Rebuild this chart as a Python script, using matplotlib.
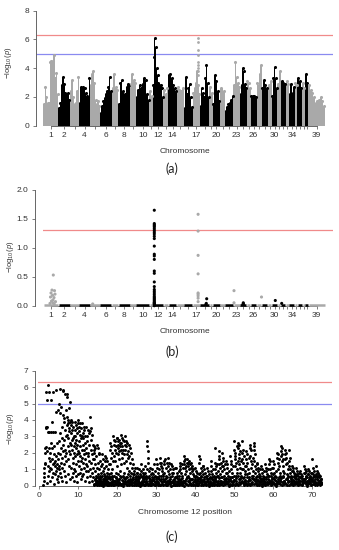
import matplotlib
matplotlib.use("Agg")
import matplotlib.pyplot as plt
import numpy as np

plt.rcParams['font.family'] = ['Liberation Sans', 'DejaVu Sans']
plt.rcParams['mathtext.fontset'] = 'custom'
plt.rcParams['mathtext.rm'] = 'Liberation Sans'
plt.rcParams['mathtext.it'] = 'Liberation Sans:italic'

# ---- genome layout (width of each chromosome on the x axis, snp index units)
chrom_len = [15, 11.7, 9, 11, 10, 11.7, 6.6, 11.7, 6, 13.3, 3.4, 10.6, 5, 8.4, 7.3,
             8.7, 7.3, 9.3, 3.4, 7.3, 5, 8.3, 6.7, 6.7, 4, 6, 5, 6, 4, 5.6, 3.4,
             5, 3.3, 5.7, 2.6, 5, 2.7, 3.3, 16.7]
chrom_shown = [1, 2, 4, 6, 8, 10, 12, 14, 17, 20, 23, 26, 30, 34, 39]

# ---- (a) upper envelope of -log10(p) along each chromosome
a_c1 = [1.5, 2.7, 2.0, 1.6, 1.6, 4.4, 4.5, 4.5, 4.9, 3.3, 3.7, 2.2]
a_c2 = [1.2, 1.6, 2.8, 3.4, 2.9, 2.3, 2.2, 2.3, 1.8]
a_c3 = [2.4, 3.2, 2.0, 1.5, 1.6, 2.4, 3.4]
a_c4 = [1.6, 2.7, 2.6, 2.7, 2.6, 2.3, 2.1, 2.0, 3.3]
a_c5 = [2.8, 3.6, 3.8, 3.0, 1.8, 1.5, 1.7, 1.4]
a_c6 = [0.9, 1.4, 1.7, 1.9, 2.2, 2.4, 2.7, 3.4, 2.4]
a_c7 = [2.6, 3.6, 2.7, 2.5]
a_c8 = [1.5, 3.0, 3.2, 2.4, 2.1, 2.2, 2.7, 2.9, 2.8]
a_c9 = [2.9, 3.6, 3.2, 3.0]
a_c10 = [2.0, 2.5, 2.8, 2.6, 2.9, 3.3, 3.2, 2.2, 1.8]
a_c11 = [2.4, 2.1]
a_c12 = [2.8, 4.8, 6.1, 5.5, 4.0, 3.5, 3.0, 2.8, 2.7, 2.8, 2.6, 2.0]
a_c13 = [2.5, 2.2, 2.6]
a_c14 = [3.5, 3.6, 3.3, 2.8, 2.6, 2.4]
a_c15 = [2.7, 2.5, 2.4, 2.6]
a_c16 = [1.2, 3.4, 2.2, 2.6, 2.9, 2.0, 1.3]
a_c17 = [2.3, 2.6, 3.0, 3.8, 2.8, 2.2]
a_c18 = [1.4, 2.6, 2.3, 2.0, 3.3, 4.2, 3.0, 2.0]
a_c19 = [2.7, 2.3]
a_c20 = [1.5, 3.5, 3.1, 2.4, 1.7]
a_c21 = [2.6, 2.4]
a_c22 = [1.0, 1.3, 1.5, 1.6, 1.8, 2.1]
a_c23 = [2.8, 4.4, 3.4, 3.0, 2.7]
a_c24 = [2.2, 2.8, 4.0, 3.8, 2.9, 2.6]
a_c25 = [3.1, 3.0, 2.6]
a_c26 = [2.1, 2.1, 2.1, 2.0]
a_c27 = [3.0, 2.8, 3.6, 4.2]
a_c28 = [2.6, 3.2, 2.8, 2.6]
a_c29 = [2.8, 3.1]
a_c30 = [2.1, 3.3, 4.1, 3.3, 2.6]
a_c31 = [2.9, 3.8]
a_c32 = [3.1, 3.0, 2.9]
a_c33 = [3.1, 2.9]
a_c34 = [2.2, 2.9, 2.3, 2.7]
a_c35 = [3.0, 2.8]
a_c36 = [3.3, 3.1, 2.6]
a_c37 = [3.0, 2.6]
a_c38 = [3.6, 3.0]
a_c39 = [2.8, 2.5, 2.3, 2.0, 1.6, 1.7, 1.8, 2.0, 1.7, 1.4]
a_tops = [a_c1, a_c2, a_c3, a_c4, a_c5, a_c6, a_c7, a_c8, a_c9, a_c10, a_c11, a_c12,
          a_c13, a_c14, a_c15, a_c16, a_c17, a_c18, a_c19, a_c20, a_c21, a_c22,
          a_c23, a_c24, a_c25, a_c26, a_c27, a_c28, a_c29, a_c30, a_c31, a_c32,
          a_c33, a_c34, a_c35, a_c36, a_c37, a_c38, a_c39]
# lone markers above chromosome 17
a_c17_hits = [6.1, 5.85, 5.3, 4.9, 4.45, 4.2, 4.0, 3.8, 3.5]
a_c17_pos = 4.8

# ---- (b) non-zero points (chromosome, offset inside chromosome, value)
b_chr = [1] * 14 + [5] + [12] * 35 + [17] * 9 + [18] * 3 + [23] * 2 + [24] * 3 + [27, 30, 32]
b_off = [10.0, 8.7, 11.2, 7.7, 11.7, 9.2, 7.2, 10.7, 9.7, 8.2, 12.2, 9.5, 6.7, 10.9,
         2.7] + [1.6] * 35 + [5.4] * 9 + [6.7, 6.3, 5.9] + [0.7, 0.7] + [3.3, 3.4, 2.9] + [4.8, 3.6, 1.0]
b_val = [0.53, 0.27, 0.26, 0.22, 0.20, 0.18, 0.15, 0.14, 0.10, 0.08, 0.07, 0.05, 0.04, 0.03,
         0.03,
         1.65, 1.42, 1.40, 1.38, 1.36, 1.33, 1.30, 1.27, 1.24, 1.20, 1.16, 1.03, 0.89, 0.86,
         0.80, 0.60, 0.56, 0.41, 0.33, 0.28, 0.25, 0.22, 0.19, 0.16, 0.14, 0.12, 0.10, 0.08,
         0.06, 0.05, 0.04, 0.03, 0.02, 0.01, 0.0,
         1.58, 1.29, 0.87, 0.55, 0.22, 0.20, 0.17, 0.13, 0.07,
         0.12, 0.04, 0.02,
         0.26, 0.05,
         0.05, 0.03, 0.02,
         0.15, 0.09, 0.04]

# ---- (c) chromosome 12 scan, values per 1-Mb window starting at 1 Mb
c12_1_9 = [
    [0.05, 0.3, 0.55, 0.8, 1.05, 1.3, 1.4, 2.0, 2.3, 3.5, 3.55, 5.7, 2.35, 0.15, 5.2, 2.1],
    [3.6, 3.25, 1.2, 0.6, 6.1, 2.3, 1.7, 5.7, 0.9, 3.25, 1.5, 2.0, 0.3, 1.1, 5.2, 2.6],
    [1.0, 3.25, 1.6, 0.5, 3.9, 2.3, 5.7, 1.3, 0.8, 3.25, 1.9, 0.1, 1.4, 2.4, 0.7, 1.2],
    [1.5, 3.25, 4.5, 0.9, 1.8, 5.8, 1.1, 2.6, 0.4, 1.3, 4.6, 0.6, 2.0, 1.6, 0.2, 1.0],
    [5.0, 1.2, 2.7, 4.4, 5.9, 0.8, 1.9, 3.2, 1.4, 2.3, 4.8, 0.5, 1.7, 2.9, 0.3, 1.1, 3.6, 2.1],
    [5.85, 4.3, 2.5, 5.75, 1.3, 3.9, 2.8, 0.9, 4.1, 1.8, 3.4, 5.6, 2.2, 0.6, 3.0, 1.5, 4.6, 2.0, 0.2, 3.7],
    [5.6, 4.2, 3.1, 5.4, 2.4, 3.8, 1.6, 4.0, 2.9, 0.7, 3.5, 1.2, 4.7, 2.1, 3.3, 0.4, 2.6, 1.9, 5.1, 3.9],
    [4.0, 3.2, 2.5, 3.7, 1.1, 2.8, 3.9, 0.5, 2.2, 3.4, 1.7, 2.9, 0.8, 3.6, 1.4, 2.0, 3.0, 0.3, 2.4, 1.0],
    [3.9, 2.6, 3.4, 1.8, 3.0, 0.9, 2.3, 3.7, 1.3, 2.8, 0.6, 3.2, 1.9, 2.5, 0.2, 3.5, 1.5, 2.1, 0.7, 3.8],
]
c12_10_19 = [
    [4.0, 3.3, 2.0, 3.6, 1.2, 2.7, 0.8, 3.1, 1.8, 2.4, 3.8, 0.4, 1.5, 2.9, 1.0, 3.5, 2.2, 0.6, 1.7, 3.0],
    [3.8, 2.5, 3.2, 1.4, 2.9, 0.7, 3.6, 1.9, 2.2, 1.1, 3.4, 0.3, 2.6, 1.6, 3.0, 0.9, 2.0, 1.3],
    [3.6, 2.3, 3.0, 1.2, 2.7, 0.5, 3.4, 1.8, 2.0, 0.9, 3.2, 1.5, 0.2, 2.5, 1.0, 0.6],
    [4.2, 3.3, 2.2, 3.5, 1.4, 2.8, 0.8, 3.1, 1.9, 0.3, 2.5, 1.1, 0.5, 1.6, 0.1, 2.0],
    [2.4, 1.6, 2.2, 0.9, 1.3, 0.4, 2.3, 0.2, 1.8, 0.6, 0.1, 1.1, 0.3, 2.5, 0.05, 0.7],
    [2.3, 1.4, 0.5, 1.9, 0.2, 1.0, 0.3, 2.0, 0.6, 0.1, 1.5, 0.4, 0.8, 0.05, 1.2, 0.25, 0.15],
    [1.9, 0.6, 1.3, 0.2, 0.9, 0.4, 1.6, 0.1, 0.7, 0.3, 1.1, 0.05, 0.5, 1.5, 0.15, 0.35, 1.8],
    [1.7, 0.4, 1.2, 0.1, 0.8, 0.3, 1.5, 0.6, 0.2, 1.0, 0.05, 0.5, 1.3, 0.15, 0.7],
    [2.6, 1.3, 0.5, 2.2, 0.2, 1.7, 0.8, 2.4, 0.1, 1.0, 0.4, 2.0, 0.6, 1.5, 0.3, 0.05],
    [3.0, 2.5, 1.8, 2.8, 0.6, 2.2, 0.3, 2.7, 1.5, 0.8, 2.4, 0.1, 2.0, 0.5, 2.9, 1.2, 0.2],
]
c12_20_29 = [
    [2.9, 2.3, 2.7, 1.9, 2.5, 0.7, 2.1, 0.4, 2.8, 1.6, 0.2, 2.4, 0.9, 2.6, 0.1, 1.3, 2.2, 0.5],
    [3.1, 2.6, 2.0, 2.9, 1.7, 2.4, 0.6, 2.8, 0.3, 2.2, 1.4, 0.8, 2.7, 0.1, 1.9, 0.4, 2.5],
    [3.0, 2.2, 2.7, 1.5, 2.4, 0.5, 1.9, 0.2, 2.6, 1.1, 0.7, 2.1, 0.3, 1.7, 0.1, 0.9],
    [2.5, 1.8, 2.3, 0.6, 1.4, 0.3, 2.0, 0.8, 0.1, 1.1, 0.4, 1.6, 0.2, 0.7],
    [1.3, 0.5, 0.9, 0.2, 0.7, 0.1, 1.1, 0.4, 0.6, 0.05, 0.3, 0.8],
    [1.1, 0.4, 0.8, 0.1, 0.6, 0.3, 1.0, 0.2, 0.5, 0.05, 0.7, 0.15],
    [1.3, 0.6, 0.9, 0.2, 0.5, 0.1, 0.8, 0.4, 1.0, 0.05, 0.3, 0.7],
    [1.2, 0.5, 0.8, 0.2, 0.3, 0.1, 0.6, 1.0, 2.7, 2.4, 2.1, 1.7, 1.4],
    [0.9, 0.3, 0.6, 0.1, 1.1, 0.4, 0.7, 0.05, 0.2, 0.8, 0.5],
    [1.0, 0.4, 0.7, 0.1, 1.3, 0.3, 0.6, 0.05, 0.9, 0.2, 0.5],
]
c12_30_39 = [
    [1.6, 1.1, 0.5, 1.3, 0.2, 0.8, 0.1, 1.0, 0.4, 0.6, 0.05, 1.4],
    [1.7, 1.2, 0.6, 1.4, 0.3, 0.9, 0.1, 1.1, 0.4, 0.05, 0.7, 1.5],
    [1.3, 0.8, 1.6, 0.4, 1.1, 0.2, 0.6, 0.05, 1.4, 0.3, 0.9],
    [1.7, 1.2, 0.7, 1.4, 0.3, 1.0, 0.1, 0.5, 1.3, 0.2, 0.8],
    [1.2, 0.6, 1.0, 0.2, 0.8, 0.1, 0.4, 1.1, 0.05, 0.3],
    [1.1, 0.5, 0.8, 0.2, 0.6, 0.1, 0.3, 0.9, 0.05, 0.4],
    [1.4, 1.0, 1.2, 0.4, 0.8, 0.2, 1.3, 0.6, 0.1, 1.1, 0.3],
    [1.8, 1.3, 1.5, 0.7, 1.1, 0.3, 1.6, 0.9, 0.1, 1.2, 0.5, 1.4],
    [1.6, 1.2, 1.4, 0.6, 1.0, 0.2, 1.5, 0.8, 0.1, 1.3, 0.4, 1.1],
    [1.4, 0.9, 1.2, 0.4, 0.7, 0.1, 1.0, 0.3, 0.6, 0.05, 0.5],
]
c12_40_49 = [
    [1.1, 0.6, 0.9, 0.2, 0.5, 0.1, 0.8, 0.3, 0.05, 0.4, 0.7],
    [1.8, 1.4, 0.8, 1.6, 0.4, 1.1, 0.2, 0.6, 0.1, 0.9, 0.3, 1.2],
    [1.2, 0.7, 1.0, 0.3, 0.5, 0.1, 0.8, 0.2, 0.6, 0.05, 0.4],
    [1.1, 0.6, 0.9, 0.2, 0.4, 0.1, 0.7, 0.3, 0.5, 0.05],
    [1.5, 0.9, 1.2, 0.4, 0.7, 0.2, 1.0, 0.1, 0.5, 0.3, 0.6],
    [2.3, 1.4, 1.0, 1.2, 0.5, 0.8, 0.2, 1.3, 0.1, 0.6, 0.3, 0.9],
    [2.1, 1.6, 1.3, 1.8, 0.7, 1.1, 0.3, 1.4, 0.5, 0.1, 0.9, 1.2, 0.2],
    [2.0, 1.5, 1.2, 1.7, 0.6, 1.0, 0.2, 1.3, 0.4, 0.1, 0.8, 0.3],
    [1.5, 1.1, 0.8, 1.3, 0.4, 0.6, 0.1, 0.9, 0.3, 0.05, 0.5],
    [1.8, 1.3, 1.0, 1.5, 0.5, 0.8, 0.2, 1.2, 0.3, 0.1, 0.6],
]
c12_50_59 = [
    [2.7, 2.2, 1.6, 2.0, 1.2, 1.8, 0.6, 1.4, 0.3, 1.0, 0.1, 2.4, 0.8, 1.5],
    [2.6, 2.3, 1.9, 2.5, 1.3, 1.7, 0.8, 2.1, 0.4, 1.1, 0.2, 1.5, 0.6, 1.0],
    [2.7, 2.0, 1.6, 2.2, 1.0, 1.4, 0.5, 1.8, 0.2, 0.9, 1.2, 0.3, 0.7],
    [2.1, 1.6, 1.2, 1.9, 0.7, 1.4, 0.3, 1.0, 0.1, 0.5, 1.7, 0.8],
    [2.5, 2.3, 1.8, 2.2, 1.1, 1.5, 0.6, 1.3, 0.2, 0.9, 0.4, 1.7],
    [2.6, 2.4, 2.2, 1.5, 1.9, 0.8, 1.2, 0.4, 1.0, 0.1, 0.6, 1.4, 0.3],
    [1.3, 0.9, 1.1, 0.5, 0.7, 0.2, 1.0, 0.3, 0.6, 0.1, 0.4],
    [1.2, 0.8, 1.0, 0.4, 0.6, 0.1, 0.9, 0.3, 0.5, 0.2],
    [1.3, 0.9, 1.1, 0.5, 0.7, 0.2, 1.0, 0.1, 0.4, 0.6],
    [1.6, 1.3, 1.0, 1.5, 0.6, 0.8, 0.2, 1.1, 0.4, 0.1, 0.7],
]
c12_60_72 = [
    [1.5, 1.1, 0.8, 1.3, 0.4, 0.6, 0.1, 0.9, 0.3, 0.5, 0.2],
    [2.0, 1.7, 1.4, 1.9, 1.0, 1.2, 0.5, 1.6, 0.3, 0.8, 0.1, 0.6],
    [2.4, 2.1, 1.8, 2.3, 1.5, 1.9, 0.9, 1.6, 0.6, 1.2, 0.3, 0.8, 0.1],
    [2.2, 1.9, 1.6, 2.0, 1.3, 1.7, 0.7, 1.4, 0.4, 1.0, 0.2, 0.6],
    [2.2, 1.5, 1.2, 1.7, 0.8, 1.0, 0.3, 0.6, 0.1, 0.5, 0.9, 0.2],
    [1.2, 0.9, 1.1, 0.6, 0.8, 0.3, 0.5, 0.1, 0.7, 0.2, 0.4],
    [1.1, 0.7, 0.9, 0.4, 0.6, 0.2, 0.8, 0.1, 0.5, 0.3],
    [0.9, 0.5, 0.7, 0.3, 0.6, 0.1, 0.4, 0.2, 0.8],
    [1.2, 0.8, 1.0, 0.4, 0.6, 0.2, 0.9, 0.1, 0.5, 0.3, 0.7],
    [1.0, 0.7, 0.9, 0.4, 0.6, 0.2, 0.5, 0.1, 0.8, 0.3],
    [1.6, 0.8, 1.1, 0.5, 0.7, 0.3, 0.9, 0.1, 0.6, 0.2, 0.4],
    [1.2, 0.7, 0.9, 0.4, 0.6, 0.2, 0.8, 0.1, 0.5, 0.3, 0.65],
    [0.6, 0.3, 0.4, 0.1, 0.2],
]
c12_bins = c12_1_9 + c12_10_19 + c12_20_29 + c12_30_39 + c12_40_49 + c12_50_59 + c12_60_72
c12_first = 1
c12_end = 72.5

# extra weak markers filling the dense band near zero, 1-Mb windows from 14 Mb
c12_low_14_33 = [
    [0.02, 0.35, 0.12, 0.48, 0.08, 0.27], [0.18, 0.03, 0.42, 0.1, 0.31, 0.55],
    [0.07, 0.26, 0.01, 0.39, 0.15, 0.6], [0.33, 0.04, 0.21, 0.47, 0.11, 0.02],
    [0.14, 0.38, 0.06, 0.24, 0.52, 0.09], [0.03, 0.29, 0.16, 0.44, 0.08, 0.36],
    [0.22, 0.05, 0.41, 0.13, 0.58, 0.02], [0.09, 0.34, 0.19, 0.01, 0.46, 0.25],
    [0.28, 0.12, 0.5, 0.04, 0.37, 0.17], [0.06, 0.43, 0.23, 0.11, 0.32, 0.02],
    [0.4, 0.15, 0.03, 0.27, 0.55, 0.09], [0.19, 0.36, 0.07, 0.48, 0.13, 0.01],
    [0.05, 0.3, 0.21, 0.62, 0.1, 0.44], [0.25, 0.02, 0.38, 0.14, 0.52, 0.07],
    [0.11, 0.45, 0.04, 0.29, 0.18, 0.36], [0.33, 0.08, 0.56, 0.2, 0.02, 0.41],
    [0.16, 0.27, 0.06, 0.49, 0.12, 0.35], [0.04, 0.39, 0.22, 0.1, 0.58, 0.26],
    [0.3, 0.13, 0.45, 0.03, 0.2, 0.52], [0.08, 0.34, 0.17, 0.42, 0.01, 0.24],
]
c12_low_34_53 = [
    [0.21, 0.06, 0.37, 0.14, 0.5, 0.03], [0.12, 0.44, 0.02, 0.28, 0.18, 0.6],
    [0.35, 0.09, 0.23, 0.47, 0.04, 0.15], [0.01, 0.31, 0.19, 0.4, 0.11, 0.54],
    [0.26, 0.07, 0.48, 0.16, 0.33, 0.02], [0.1, 0.38, 0.05, 0.22, 0.57, 0.29],
    [0.43, 0.14, 0.02, 0.32, 0.08, 0.46], [0.17, 0.27, 0.5, 0.06, 0.36, 0.12],
    [0.03, 0.41, 0.2, 0.13, 0.55, 0.25], [0.3, 0.09, 0.39, 0.01, 0.18, 0.47],
    [0.14, 0.52, 0.07, 0.34, 0.23, 0.04], [0.38, 0.11, 0.27, 0.6, 0.02, 0.19],
    [0.06, 0.45, 0.15, 0.29, 0.09, 0.53], [0.24, 0.03, 0.41, 0.12, 0.35, 0.18],
    [0.49, 0.16, 0.08, 0.31, 0.01, 0.4], [0.11, 0.28, 0.56, 0.05, 0.21, 0.37],
    [0.33, 0.02, 0.17, 0.46, 0.13, 0.58], [0.07, 0.4, 0.25, 0.1, 0.5, 0.2],
    [0.29, 0.14, 0.44, 0.03, 0.36, 0.09], [0.18, 0.52, 0.06, 0.26, 0.12, 0.42],
]
c12_low_54_72 = [
    [0.02, 0.32, 0.19, 0.47, 0.1, 0.6], [0.4, 0.08, 0.26, 0.15, 0.53, 0.03],
    [0.13, 0.36, 0.05, 0.44, 0.22, 0.3], [0.27, 0.01, 0.49, 0.16, 0.38, 0.09],
    [0.06, 0.42, 0.2, 0.11, 0.57, 0.24], [0.35, 0.14, 0.03, 0.29, 0.46, 0.18],
    [0.21, 0.5, 0.08, 0.37, 0.12, 0.01], [0.09, 0.28, 0.43, 0.17, 0.33, 0.55],
    [0.45, 0.04, 0.23, 0.52, 0.15, 0.31], [0.16, 0.39, 0.1, 0.02, 0.48, 0.26],
    [0.3, 0.07, 0.55, 0.19, 0.41, 0.12], [0.04, 0.34, 0.14, 0.46, 0.22, 0.6],
    [0.25, 0.11, 0.38, 0.02, 0.3, 0.5], [0.13, 0.47, 0.06, 0.27, 0.18, 0.4],
    [0.37, 0.2, 0.53, 0.09, 0.01, 0.29], [0.08, 0.28, 0.16, 0.44, 0.35, 0.05],
    [0.42, 0.12, 0.31, 0.58, 0.2, 0.03], [0.19, 0.5, 0.07, 0.36, 0.25, 0.14],
    [0.05, 0.27, 0.15, 0.4, 0.1],
]
c12_low = c12_low_14_33 + c12_low_34_53 + c12_low_54_72
c12_low_first = 14

genome_wide = 6.3
suggestive = 5.0
nominal = 1.3

grey = '#a9a9a9'
txt = '#333333'
axcol = '#666666'

fig = plt.figure(figsize=(3.39, 5.5), dpi=100)

starts = np.concatenate([[0], np.cumsum(chrom_len)[:-1]])
centers = starts + np.array(chrom_len) / 2
tick_lab = [str(i + 1) if (i + 1) in chrom_shown else '' for i in range(len(chrom_len))]


def style(ax, ytop, yticks, ylabels, offset):
    for s in ['top', 'right']:
        ax.spines[s].set_visible(False)
    ax.spines['left'].set_bounds(0, ytop)
    ax.spines['left'].set_position(('outward', offset))
    for s in ['left', 'bottom']:
        ax.spines[s].set_color(axcol)
        ax.spines[s].set_linewidth(0.7)
    ax.set_ylim(0, ytop)
    ax.set_yticks(yticks)
    ax.set_yticklabels(ylabels)
    ax.tick_params(axis='both', length=2.2, width=0.6, color=axcol,
                   labelsize=6, labelcolor=txt, pad=2.5)


def colour(i):
    return grey if i % 2 == 0 else 'black'


def spread(bins, first, end):
    xs, ys = [], []
    for k, vals in enumerate(bins):
        left = first + k
        width = min(1.0, end - left)
        n = len(vals)
        for j, v in enumerate(vals):
            xs.append(left + width * (j + 0.5) / n)
            ys.append(v)
    return xs, ys


# ---------------- (a)
ax1 = fig.add_axes([36 / 339, 1 - 125.7 / 550, 297 / 339, 115 / 550])
for i, tops in enumerate(a_tops):
    n = len(tops)
    w = chrom_len[i] / n
    xs = starts[i] + w * (np.arange(n) + 0.5)
    ax1.bar(xs, tops, width=w * 1.05, color=colour(i), linewidth=0, zorder=2)
    ax1.scatter(xs, tops, s=5, color=colour(i), linewidths=0, zorder=3, clip_on=False)
ax1.scatter([starts[16] + a_c17_pos] * len(a_c17_hits), a_c17_hits, s=4, color=grey,
            linewidths=0, zorder=3)
ax1.axhline(genome_wide, color='#f08a8a', lw=0.9, zorder=1)
ax1.axhline(suggestive, color='#8a8af0', lw=0.9, zorder=1)
ax1.set_xlim(-7.3, 289.7)
ax1.set_xticks(centers)
ax1.set_xticklabels(tick_lab)
style(ax1, 8, [0, 2, 4, 6, 8], ['0', '2', '4', '6', '8'], 0)
ax1.spines['bottom'].set_bounds(centers[0], centers[-1])

# ---------------- (b)
ax2 = fig.add_axes([43.3 / 339, 1 - 305.7 / 550, 289.7 / 339, 115.7 / 550])
for i in range(len(chrom_len)):
    ax2.hlines(0.008, starts[i] + 0.4, starts[i] + chrom_len[i] - 0.4, color=colour(i),
               lw=1.8, zorder=3, clip_on=False)
bx = [starts[c - 1] + o for c, o in zip(b_chr, b_off)]
bc = [colour(c - 1) for c in b_chr]
ax2.scatter(bx, b_val, s=5, c=bc, linewidths=0, zorder=4, clip_on=False)
ax2.axhline(nominal, color='#f08a8a', lw=0.9, zorder=1)
ax2.set_xlim(0, 289.7)
ax2.set_xticks(centers)
ax2.set_xticklabels(tick_lab)
style(ax2, 2.0, [0, 0.5, 1.0, 1.5, 2.0], ['0.0', '0.5', '1.0', '1.5', '2.0'], 6)
ax2.spines['bottom'].set_bounds(centers[0], centers[-1])

# ---------------- (c)
ax3 = fig.add_axes([38 / 339, 1 - 485.7 / 550, 294 / 339, 115 / 550])
cx, cy = spread(c12_bins, c12_first, c12_end)
lx, ly = spread(c12_low, c12_low_first, c12_end)
ax3.scatter(cx + lx, cy + ly, s=4.5, color='black', linewidths=0, zorder=3, clip_on=False)
ax3.axhline(genome_wide, color='#f08a8a', lw=0.9, zorder=1)
ax3.axhline(suggestive, color='#8a8af0', lw=0.9, zorder=1)
ax3.set_xlim(-0.36, 75.2)
ax3.set_xticks(range(0, 71, 10))
style(ax3, 7, range(0, 8), [str(v) for v in range(0, 8)], 2.2)
ax3.spines['bottom'].set_bounds(0, 70)

# ---------------- text
ylab = r'$-\log_{10}(p)$'
fig.text(8 / 339, 1 - 63 / 550, ylab, rotation=90, ha='center', va='center', fontsize=5.5, color=txt)
fig.text(10 / 339, 1 - 256.7 / 550, ylab, rotation=90, ha='center', va='center', fontsize=5.5, color=txt)
fig.text(10 / 339, 1 - 428.3 / 550, ylab, rotation=90, ha='center', va='center', fontsize=5.5, color=txt)

fig.text(185 / 339, 1 - 151.7 / 550, 'Chromosome', ha='center', va='center', fontsize=6, color=txt)
fig.text(185 / 339, 1 - 331.7 / 550, 'Chromosome', ha='center', va='center', fontsize=6, color=txt)
fig.text(185 / 339, 1 - 512.3 / 550, 'Chromosome 12 position', ha='center', va='center', fontsize=6, color=txt)

for lab, yy in [('(a)', 169), ('(b)', 352), ('(c)', 536.7)]:
    fig.text(172 / 339, 1 - yy / 550, lab, ha='center', va='center', fontsize=9,
             family=['Lato', 'DejaVu Sans'], color='#222222')

fig.savefig('out.png', dpi=100)
